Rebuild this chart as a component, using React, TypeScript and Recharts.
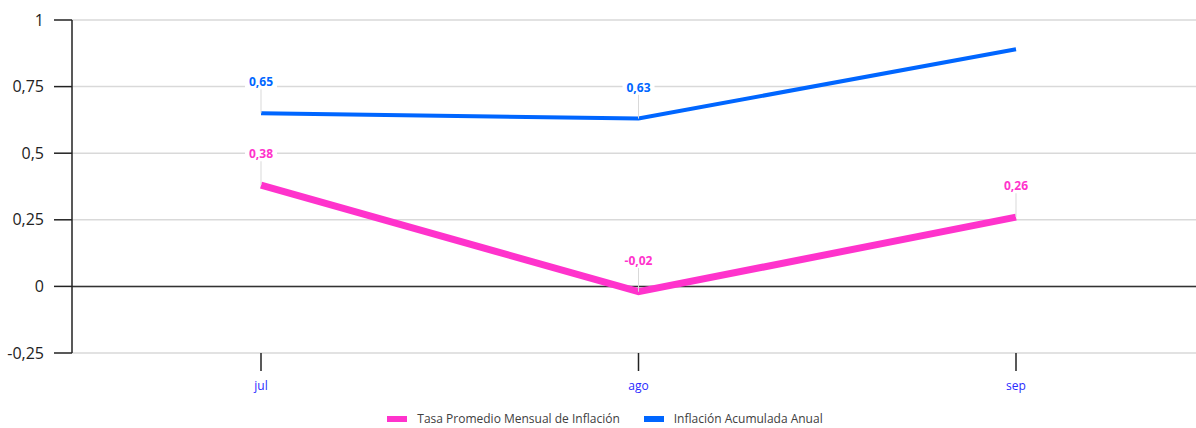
import { LineChart, Line, XAxis, YAxis, CartesianGrid, ReferenceLine, LabelList, Legend } from 'recharts';

const MONTHS = ['jul', 'ago', 'sep'];
const TASA_MENSUAL = [0.38, -0.02, 0.26];
const ACUMULADA_ANUAL = [0.65, 0.63, 0.89];
const Y_TICKS = [-0.25, 0, 0.25, 0.5, 0.75, 1];

const PINK = '#ff33cc';
const BLUE = '#0066ff';

const chartData = MONTHS.map((m, i) => ({
    month: m,
    tasa: TASA_MENSUAL[i],
    acumulada: ACUMULADA_ANUAL[i],
}));

const fmt = (v: number) => String(v).replace('.', ',');

// label above the point with a thin leader line, like the original
function makeLabel(color: string, hide: number[] = []) {
    return (props: any) => {
        const { x, y, value, index } = props;
        if (hide.includes(index)) return null;
        const text = fmt(value);
        const w = text.length * 7 + 4;
        return (
            <g>
                <line x1={x} y1={y - 24} x2={x} y2={y} stroke="#d9d9d9" strokeWidth={1} />
                <rect x={x - w / 2} y={y - 39} width={w} height={15} fill="#fff" />
                <text x={x} y={y - 27} textAnchor="middle" fill={color} fontSize={12} fontWeight="bold"
                    fontFamily="'Open Sans', sans-serif">{text}</text>
            </g>
        );
    };
}

function LegendContent() {
    const items = [
        { label: 'Tasa Promedio Mensual de Inflación', color: PINK },
        { label: 'Inflación Acumulada Anual', color: BLUE },
    ];
    return (
        <div style={{ display: 'flex', justifyContent: 'center', gap: 24, paddingLeft: 14, fontFamily: "'Open Sans', sans-serif", fontSize: 12, color: '#404040' }}>
            {items.map((it) => (
                <div key={it.label} style={{ display: 'flex', alignItems: 'center' }}>
                    <span style={{ display: 'inline-block', width: 20, height: 6, background: it.color, marginRight: 10 }} />
                    {it.label}
                </div>
            ))}
        </div>
    );
}

export default function App() {
    return (
        <div style={{ position: 'absolute', left: 0, top: 0, width: 1196, height: 428, overflow: 'hidden', background: '#fff' }}>
            <LineChart width={1206} height={428} data={chartData} margin={{ top: 20, right: 1, bottom: 0, left: 0 }}>
                <CartesianGrid vertical={false} stroke="#d9d9d9" strokeWidth={1.5} />
                <XAxis dataKey="month" axisLine={false} padding={{ left: 189, right: 189 }} tickSize={18} tickMargin={10}
                    tickLine={{ stroke: '#222', strokeWidth: 1.5 }}
                    tick={{ fill: '#2a2aff', fontSize: 12, fontFamily: "'Open Sans', sans-serif" }} height={55} />
                <YAxis domain={[-0.25, 1]} ticks={Y_TICKS} tickFormatter={fmt} width={72} tickSize={18} tickMargin={10}
                    axisLine={{ stroke: '#222', strokeWidth: 1.5 }} tickLine={{ stroke: '#222', strokeWidth: 1.5 }}
                    tick={{ fill: '#222', fontSize: 16, fontFamily: "'Open Sans', sans-serif" }} />
                <ReferenceLine y={0} stroke="#333" strokeWidth={1.5} />
                <Legend verticalAlign="bottom" height={20} content={<LegendContent />} wrapperStyle={{ left: 0, width: 1196, top: 410 }} />
                <Line type="linear" dataKey="tasa" stroke={PINK} strokeWidth={7} dot={false} isAnimationActive={false}>
                    <LabelList dataKey="tasa" content={makeLabel(PINK)} />
                </Line>
                <Line type="linear" dataKey="acumulada" stroke={BLUE} strokeWidth={4} dot={false} isAnimationActive={false}>
                    <LabelList dataKey="acumulada" content={makeLabel(BLUE, [2])} />
                </Line>
            </LineChart>
        </div>
    );
}
